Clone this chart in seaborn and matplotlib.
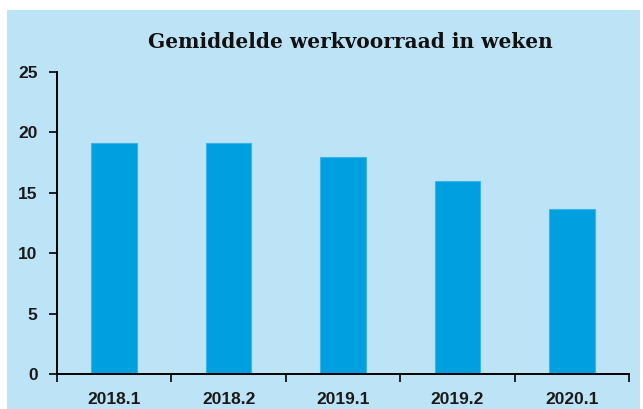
import matplotlib
matplotlib.use("Agg")
import matplotlib.pyplot as plt
import seaborn as sns
import pandas as pd

# data
periods = ["2018.1", "2018.2", "2019.1", "2019.2", "2020.1"]
weeks = [19.1, 19.1, 18.0, 16.0, 13.7]
y_ticks = [0, 5, 10, 15, 20, 25]

bg = "#bde4f6"
bar_col = "#009fe0"

sns.set_style("ticks")
plt.rcParams["font.family"] = ["Liberation Sans", "DejaVu Sans"]

df = pd.DataFrame({"periode": periods, "weken": weeks})

fig = plt.figure(figsize=(6.43, 4.09), dpi=100)
fig.patch.set_facecolor(bg)
# white margins round the blue panel (top, left, right)
W, H = 643, 409
for (x0, y0, w, h) in [(0, H - 10, W, 10), (0, 0, 7, H), (W - 3, 0, 3, H)]:
    fig.patches.append(plt.Rectangle((x0 / W, y0 / H), w / W, h / H, transform=fig.transFigure,
                                     facecolor="white", edgecolor="none", zorder=0))

ax = fig.add_axes([57 / W, 1 - 374 / H, (629 - 57) / W, (374 - 72) / H])
ax.set_facecolor(bg)
sns.barplot(data=df, x="periode", y="weken", color=bar_col, width=0.4,
            saturation=1, edgecolor="#3db3e8", linewidth=0.8, ax=ax)

ax.set_xlim(-0.5, 4.5)
ax.set_ylim(0, 25)
ax.set_yticks(y_ticks)
ax.set_xticks([i - 0.5 for i in range(len(periods) + 1)], minor=False)
ax.set_xticklabels([])
ax.set_xticks(range(len(periods)), minor=True)
ax.set_xticklabels(periods, minor=True)
ax.tick_params(axis="x", which="major", length=6, width=1.2, color="black", direction="out")
ax.tick_params(axis="x", which="minor", length=0, labelsize=12.5, pad=13, labelcolor="#1a1a1a")
ax.tick_params(axis="y", length=6, width=1.2, color="black", labelsize=12.5, pad=8,
               labelcolor="#1a1a1a")
for lab in ax.get_xticklabels(minor=True) + ax.get_yticklabels():
    lab.set_fontweight("bold")
ax.set_xlabel("")
ax.set_ylabel("")
for s in ["top", "right"]:
    ax.spines[s].set_visible(False)
for s in ["left", "bottom"]:
    ax.spines[s].set_linewidth(1.4)
    ax.spines[s].set_color("black")

fig.text(350 / W, 1 - 42 / H, "Gemiddelde werkvoorraad in weken", ha="center", va="center",
         fontsize=14.5, family="DejaVu Serif", fontweight="bold", color="#111111")

fig.savefig("out.png", dpi=100, facecolor=bg)
